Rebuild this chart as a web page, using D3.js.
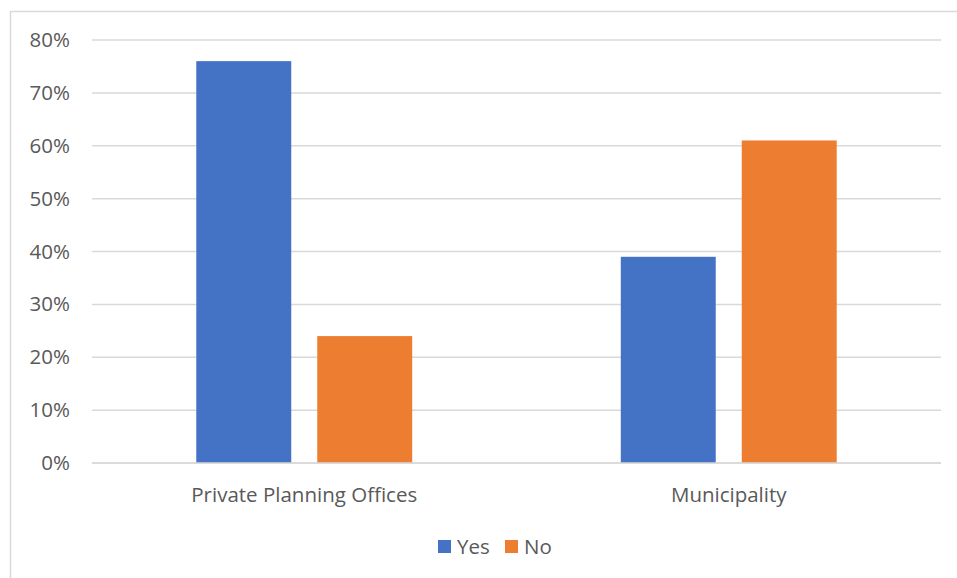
<!DOCTYPE html>
<html>
<head>
<meta charset="utf-8">
<script src="https://cdn.jsdelivr.net/npm/d3@7"></script>
<style>
  html, body { margin: 0; padding: 0; background: #fff; }
  svg { display: block; }
</style>
</head>
<body>
<svg id="chart" width="957" height="578"></svg>
<script>
// Survey answers by respondent group
const categories = ["Private Planning Offices", "Municipality"];
const seriesNames = ["Yes", "No"];
const yesValues = [0.76, 0.39];
const noValues = [0.24, 0.61];
const tickValues = [0, 0.1, 0.2, 0.3, 0.4, 0.5, 0.6, 0.7, 0.8];
const colors = ["#4472C4", "#ED7D31"];

const svg = d3.select("#chart");
const font = "'Open Sans', Roboto, sans-serif";
const textColor = "#595959";

// Chart-area frame (runs off the right and bottom edges)
svg.append("rect")
  .attr("x", 10.5).attr("y", 11.5)
  .attr("width", 1000).attr("height", 700)
  .attr("fill", "none").attr("stroke", "#d9d9d9").attr("stroke-width", 1.5);

const plot = { left: 92, right: 941, top: 40, bottom: 463 };

const x0 = d3.scaleBand().domain(categories)
  .range([plot.left, plot.right]).paddingInner(0).paddingOuter(0);
const x1 = d3.scaleBand().domain(seriesNames)
  .range([0, x0.bandwidth()]).paddingInner(0.215).paddingOuter(0.862);
const y = d3.scaleLinear().domain([0, 0.8]).range([plot.bottom, plot.top]);

// Gridlines
svg.append("g").selectAll("line").data(tickValues).join("line")
  .attr("x1", plot.left).attr("x2", plot.right)
  .attr("y1", d => y(d)).attr("y2", d => y(d))
  .attr("stroke", "#d9d9d9").attr("stroke-width", 1.5);

// Y axis labels
const yAxis = d3.axisLeft(y).tickValues(tickValues)
  .tickFormat(d3.format(".0%")).tickSize(0).tickPadding(22);
const gy = svg.append("g").attr("transform", `translate(${plot.left},0)`).call(yAxis);
gy.select(".domain").remove();
gy.selectAll("text").attr("font-family", font).attr("font-size", 20.5)
  .attr("fill", textColor);

// Bars
const rows = categories.map((c, i) => ({ cat: c, vals: [yesValues[i], noValues[i]] }));
const groups = svg.append("g").selectAll("g").data(rows).join("g")
  .attr("transform", d => `translate(${x0(d.cat)},0)`);
groups.selectAll("rect").data(d => d.vals.map((v, j) => ({ key: seriesNames[j], v, j })))
  .join("rect")
  .attr("x", d => x1(d.key))
  .attr("width", x1.bandwidth())
  .attr("y", d => y(d.v))
  .attr("height", d => y(0) - y(d.v))
  .attr("fill", d => colors[d.j]);

// Baseline
svg.append("line")
  .attr("x1", plot.left).attr("x2", plot.right)
  .attr("y1", y(0)).attr("y2", y(0))
  .attr("stroke", "#d9d9d9").attr("stroke-width", 1.5);

// Category labels
svg.append("g").selectAll("text").data(categories).join("text")
  .attr("x", d => x0(d) + x0.bandwidth() / 2)
  .attr("y", 502)
  .attr("text-anchor", "middle")
  .attr("font-family", font).attr("font-size", 20.5)
  .attr("fill", textColor)
  .text(d => d);

// Legend
const legend = svg.append("g");
const legendItems = [
  { name: seriesNames[0], color: colors[0], x: 438 },
  { name: seriesNames[1], color: colors[1], x: 505 }
];
legend.selectAll("rect").data(legendItems).join("rect")
  .attr("x", d => d.x).attr("y", 540)
  .attr("width", 13).attr("height", 13)
  .attr("fill", d => d.color);
legend.selectAll("text").data(legendItems).join("text")
  .attr("x", d => d.x + 19).attr("y", 554)
  .attr("font-family", font).attr("font-size", 20.5)
  .attr("fill", textColor)
  .text(d => d.name);
</script>
</body>
</html>
